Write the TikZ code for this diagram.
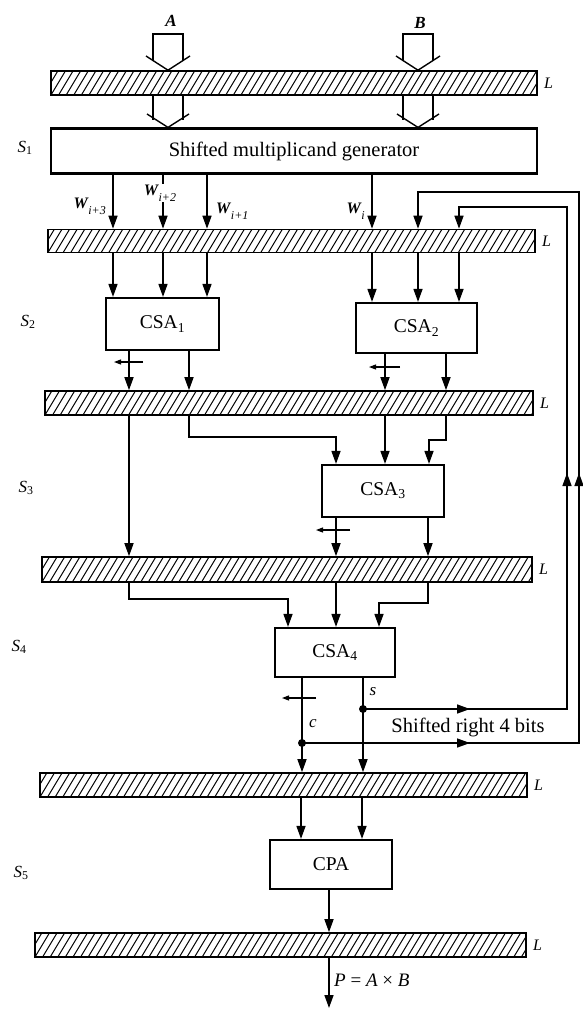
\documentclass[tikz,border=0pt]{standalone}
\usepackage{fontspec}
\setmainfont{Liberation Serif}
\usetikzlibrary{arrows.meta,decorations.markings}
\newcommand{\wsub}[1]{\kern0.5pt\raisebox{-6pt}{\fontsize{12}{12}\selectfont\normalfont\itshape #1}}
\begin{document}
\begin{tikzpicture}[x=1pt,y=-1pt,
  ln/.style={line width=1.5pt},
  arr/.style={ln,-{Triangle[length=13pt,width=9pt]}},
  sarr/.style={line width=1.1pt,-{Triangle[length=7pt,width=5pt]}},
  hol/.style={line width=1.4pt},
  latch/.style={draw,line width=1.6pt,inner sep=0pt,path picture={
     \foreach \k in {-4,...,68}{
       \draw[line width=1pt] ([xshift=\k*7.6pt]path picture bounding box.south west) -- ++(18pt,30pt);
     }}},
  box/.style={draw,line width=2.2pt,inner sep=0pt,fill=white,font=\fontsize{19.5}{21}\selectfont},
  lab/.style={inner sep=1pt,font=\fontsize{17}{19}\selectfont},
  wlab/.style={inner sep=1pt,font=\fontsize{16}{18}\selectfont\bfseries\itshape},
  llab/.style={inner sep=1pt,font=\fontsize{16}{18}\selectfont\itshape,anchor=west},
  dot/.style={circle,fill=black,inner sep=0pt,minimum size=8pt},
  midc/.style={postaction={decorate},decoration={markings,
     mark=at position 168pt with {\arrow{Triangle[length=13pt,width=9pt]}},
     mark=at position 547pt with {\arrow{Triangle[length=13pt,width=9pt]}}}},
  mids/.style={postaction={decorate},decoration={markings,
     mark=at position 107pt with {\arrow{Triangle[length=13pt,width=9pt]}},
     mark=at position 440pt with {\arrow{Triangle[length=13pt,width=9pt]}}}}
]
\useasboundingbox (0,0) rectangle (583,1012);

% columns
\coordinate (cA) at (168,0);
\coordinate (cB) at (418,0);
\coordinate (w3) at (113,0);
\coordinate (w2) at (163,0);
\coordinate (w1) at (207,0);
\coordinate (wi) at (372,0);
\coordinate (f1) at (418,0);
\coordinate (f2) at (459,0);
\coordinate (o1a) at (129,0);
\coordinate (o1b) at (189,0);
\coordinate (o2a) at (385,0);
\coordinate (o2b) at (446,0);
\coordinate (i3a) at (336,0);
\coordinate (i3c) at (429,0);
\coordinate (o3b) at (428,0);
\coordinate (i4a) at (288,0);
\coordinate (i4c) at (379,0);
\coordinate (cc) at (302,0);
\coordinate (ss) at (363,0);
\coordinate (p1) at (301,0);
\coordinate (p2) at (362,0);
\coordinate (po) at (329,0);

% latches
\node[latch,minimum width=486pt,minimum height=24pt] (l1) at (294,83) {};
\node[latch,minimum width=487pt,minimum height=23pt] (l2) at (291.5,241) {};
\node[latch,minimum width=488pt,minimum height=24pt] (l3) at (289,403) {};
\node[latch,minimum width=490pt,minimum height=25pt] (l4) at (287,569.5) {};
\node[latch,minimum width=487pt,minimum height=24pt] (l5) at (283.5,785) {};
\node[latch,minimum width=491pt,minimum height=24pt] (l6) at (280.5,945) {};
\foreach \n in {l1,l2,l3,l4,l5,l6}{
  \node[llab] at ([xshift=5pt]\n.east) {L};
}

% boxes
\node[box,minimum width=486pt,minimum height=45pt,font=\fontsize{20.5}{22}\selectfont] (gen) at (294,151) {Shifted multiplicand generator};
\node[box,minimum width=113pt,minimum height=52pt] (csa1) at (162.5,324) {CSA\textsubscript{1}};
\node[box,minimum width=121pt,minimum height=50pt] (csa2) at (416.5,328) {CSA\textsubscript{2}};
\node[box,minimum width=122pt,minimum height=52pt] (csa3) at (383,491) {CSA\textsubscript{3}};
\node[box,minimum width=120pt,minimum height=49pt] (csa4) at (335,652.5) {CSA\textsubscript{4}};
\node[box,minimum width=122pt,minimum height=49pt] (cpa) at (331,864.5) {CPA};

% stage labels
\node[lab] (s1) at (25,148) {\textit{S}\textsubscript{1}};
\node[lab] (s2) at (28,322) {\textit{S}\textsubscript{2}};
\node[lab] (s3) at (26,488) {\textit{S}\textsubscript{3}};
\node[lab] (s4) at (19,647) {\textit{S}\textsubscript{4}};
\node[lab] (s5) at (21,873) {\textit{S}\textsubscript{5}};

% inputs A and B (hollow arrows)
\node[lab,font=\fontsize{17}{19}\selectfont\bfseries\itshape] (lA) at (171,21) {A};
\node[lab,font=\fontsize{17}{19}\selectfont\bfseries\itshape] (lB) at (420,23) {B};
\foreach \c/\cx in {cA/168,cB/418}{
  \draw[hol] (\cx-15,61) -- (\cx-15,34) -- (\cx+15,34) -- (\cx+15,61);
  \draw[hol] (\cx-22,56) -- (l1.north -| \c) -- (\cx+22,56);
  \draw[hol] (\cx-15,95) -- (\cx-15,120);
  \draw[hol] (\cx+15,95) -- (\cx+15,120);
  \draw[hol] (\cx-21,114) -- (gen.north -| \c) -- (\cx+21,114);
}

% generator outputs
\draw[arr] (gen.south -| w3) -- (l2.north -| w3);
\draw[arr] (gen.south -| w2) -- (l2.north -| w2);
\draw[arr] (gen.south -| w1) -- (l2.north -| w1);
\draw[arr] (gen.south -| wi) -- (l2.north -| wi);
\node[wlab,anchor=east] (lw3) at (107,206) {W\wsub{i+3}};
\node[wlab,fill=white] (lw2) at (160,193) {W\wsub{i+2}};
\node[wlab,anchor=west] (lw1) at (215,211) {W\wsub{i+1}};
\node[wlab,anchor=east] (lwi) at (366,211) {W\wsub{i}};

% latch 2 to CSA1, CSA2
\draw[arr] (l2.south -| w3) -- (csa1.north -| w3);
\draw[arr] (l2.south -| w2) -- (csa1.north -| w2);
\draw[arr] (l2.south -| w1) -- (csa1.north -| w1);
\draw[arr] (l2.south -| wi) -- (csa2.north -| wi);
\draw[arr] (l2.south -| f1) -- (csa2.north -| f1);
\draw[arr] (l2.south -| f2) -- (csa2.north -| f2);

% CSA1, CSA2 outputs
\draw[arr] (csa1.south -| o1a) -- (l3.north -| o1a);
\draw[arr] (csa1.south -| o1b) -- (l3.north -| o1b);
\draw[arr] (csa2.south -| o2a) -- (l3.north -| o2a);
\draw[arr] (csa2.south -| o2b) -- (l3.north -| o2b);
\draw[sarr] (143,362) -- (114,362);
\draw[sarr] (400,367) -- (369,367);

% latch 3 to CSA3 / latch 4
\draw[arr] (l3.south -| o1a) -- (l4.north -| o1a);
\draw[arr] (l3.south -| o1b) -- (189,437) -- (336,437) -- (csa3.north -| i3a);
\draw[arr] (l3.south -| o2a) -- (csa3.north -| o2a);
\draw[arr] (l3.south -| o2b) -- (446,440) -- (429,440) -- (csa3.north -| i3c);

% CSA3 outputs
\draw[arr] (csa3.south -| i3a) -- (l4.north -| i3a);
\draw[arr] (csa3.south -| o3b) -- (l4.north -| o3b);
\draw[sarr] (350,530) -- (316,530);

% latch 4 to CSA4
\draw[arr] (l4.south -| o1a) -- (129,599) -- (288,599) -- (csa4.north -| i4a);
\draw[arr] (l4.south -| i3a) -- (csa4.north -| i3a);
\draw[arr] (l4.south -| o3b) -- (428,603) -- (379,603) -- (csa4.north -| i4c);

% CSA4 outputs
\coordinate (sdot) at (363,709);
\coordinate (cdot) at (302,743);
\draw[arr] (csa4.south -| cc) -- (l5.north -| cc);
\draw[arr] (csa4.south -| ss) -- (l5.north -| ss);
\draw[sarr] (316,698) -- (282,698);
\node[lab,font=\fontsize{17}{19}\selectfont\itshape] (ls) at (373,692) {s};
\node[lab,font=\fontsize{17}{19}\selectfont\itshape] (lc) at (313,724) {c};
\node[dot] at (sdot) {};
\node[dot] at (cdot) {};
\node[lab,font=\fontsize{20.5}{22}\selectfont] (shl) at (468,727) {Shifted right 4 bits};

% feedback loops
\draw[arr,midc] (cdot) -- (579,743) -- (579,192) -- (418,192) -- (l2.north -| f1);
\draw[arr,mids] (sdot) -- (567,709) -- (567,207) -- (459,207) -- (l2.north -| f2);

% CPA
\draw[arr] (l5.south -| p1) -- (cpa.north -| p1);
\draw[arr] (l5.south -| p2) -- (cpa.north -| p2);
\draw[arr] (cpa.south -| po) -- (l6.north -| po);
\coordinate (pout) at (329,1008);
\draw[arr] (l6.south -| po) -- (pout);
\node[lab,anchor=west,font=\fontsize{19}{21}\selectfont] (lp) at (333,980) {\textit{P} = \textit{A} × \textit{B}};

\end{tikzpicture}
\end{document}
